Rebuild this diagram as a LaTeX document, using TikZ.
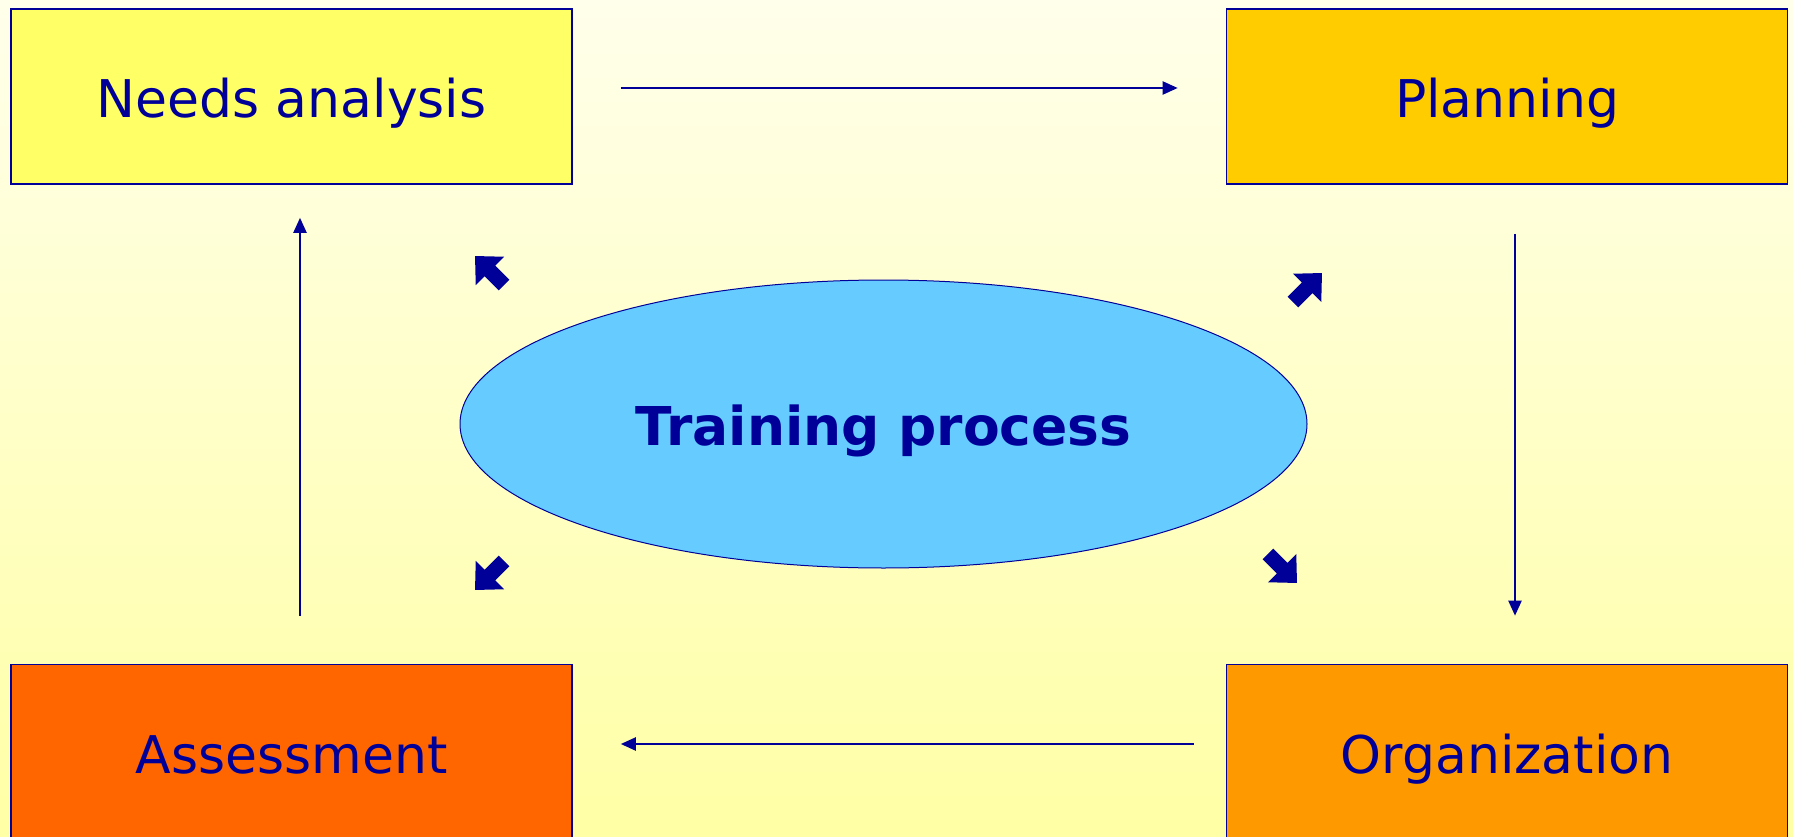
\documentclass[tikz,border=0pt]{standalone}
\usepackage{fontspec}
\setmainfont{DejaVu Sans}
\usetikzlibrary{arrows.meta,shapes.geometric}
\definecolor{navy}{HTML}{000099}
\definecolor{bgtop}{RGB}{255,255,235}
\definecolor{bgbot}{RGB}{255,255,165}
\definecolor{cneeds}{HTML}{FFFF66}
\definecolor{cplan}{HTML}{FFCC00}
\definecolor{corg}{HTML}{FF9900}
\definecolor{cassess}{HTML}{FF6600}
\definecolor{cell}{HTML}{66CCFF}
\tikzset{
  stage/.style={draw=navy, line width=1.6pt, inner sep=0pt, minimum width=561pt, minimum height=175pt,
    text=navy, text height=43pt, text depth=0pt, font=\fontsize{52}{62}\selectfont},
  flow/.style={draw=navy, line width=2.2pt, -{Triangle[length=15pt,width=13pt]}},
  barrow/.pic={\fill[navy] (24,0) -- (3,20) -- (3,7.5) -- (-17,7.5) -- (-17,-7.5) -- (3,-7.5) -- (3,-20) -- cycle;}
}
\begin{document}
\begin{tikzpicture}[x=1pt,y=-1pt]
\useasboundingbox (0,0) rectangle (1793,837);
\clip (0,0) rectangle (1793,837);
\shade[top color=bgtop, bottom color=bgbot] (0,0) rectangle (1793,837);

\node[stage, fill=cneeds] (na) at (291.5,96.5) {Needs analysis};
\node[stage, fill=cplan] (pl) at (1507,96.5) {Planning};
\node[stage, fill=corg] (org) at (1507,752) {Organization};
\node[stage, fill=cassess] (as) at (291.5,752) {Assessment};

\node[ellipse, draw=navy, line width=1pt, fill=cell, minimum width=847pt, minimum height=288pt,
  inner sep=0pt, text=navy, text height=43pt, text depth=0pt,
  font=\bfseries\fontsize{53.5}{62}\selectfont] (tp) at (883.5,424) {Training process};

\draw[flow, shorten <=48pt, shorten >=48pt] ([yshift=8.5pt]na.east) -- ([yshift=8.5pt]pl.west);
\draw[flow, shorten <=49pt, shorten >=48pt] ([xshift=8pt]pl.south) -- ([xshift=8pt]org.north);
\draw[flow, shorten <=32pt, shorten >=48pt] ([yshift=8pt]org.west) -- ([yshift=8pt]as.east);
\draw[flow, shorten <=48pt, shorten >=33pt] ([xshift=8.5pt]as.north) -- ([xshift=8.5pt]na.south);

\pic[rotate=135] at (492,273) {barrow};
\pic[rotate=45] at (1305,290) {barrow};
\pic[rotate=225] at (492,573) {barrow};
\pic[rotate=-45] at (1280,566) {barrow};
\end{tikzpicture}
\end{document}
